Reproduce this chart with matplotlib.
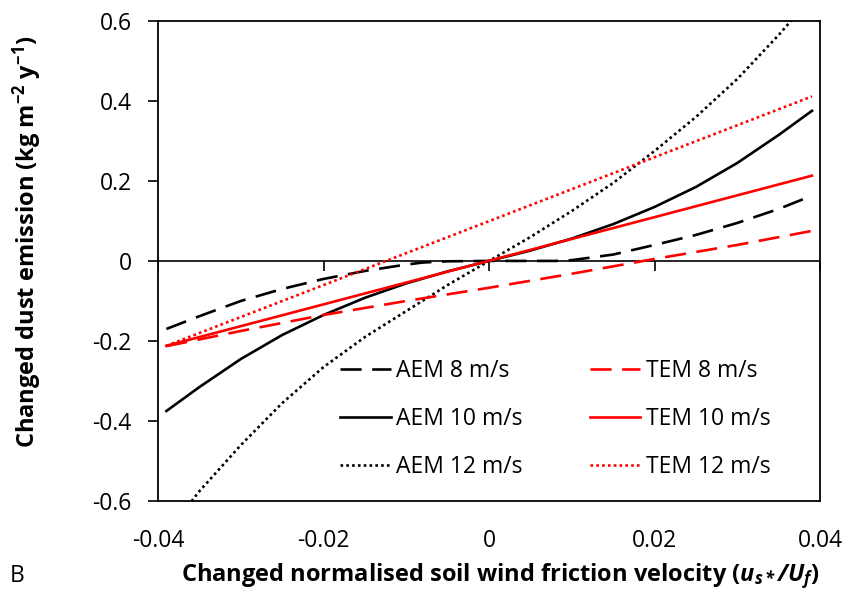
import matplotlib
matplotlib.use("Agg")
import matplotlib.pyplot as plt

plt.rcParams['font.family'] = ['Open Sans', 'DejaVu Sans']
plt.rcParams['axes.unicode_minus'] = False
plt.rcParams['mathtext.fontset'] = 'custom'
plt.rcParams['mathtext.rm'] = 'Open Sans'
plt.rcParams['mathtext.it'] = 'Open Sans:italic'
plt.rcParams['mathtext.bf'] = 'Open Sans:bold'
plt.rcParams['mathtext.bfit'] = 'Open Sans:italic:bold'

# AEM curves (black)
aem8_x = [-0.039, -0.035, -0.03, -0.025, -0.02, -0.015, -0.01, -0.008, -0.005, 0, 0.005, 0.008, 0.01,
          0.015, 0.02, 0.025, 0.03, 0.035, 0.039]
aem8_y = [-0.17, -0.138, -0.10, -0.07, -0.045, -0.025, -0.009, -0.004, -0.001, 0, 0, 0, 0.002,
          0.016, 0.04, 0.065, 0.095, 0.13, 0.163]

aem10_x = [-0.039, -0.035, -0.03, -0.025, -0.02, -0.015, -0.01, -0.005, 0, 0.005, 0.01, 0.015,
           0.02, 0.025, 0.03, 0.035, 0.039]
aem10_y = [-0.375, -0.315, -0.245, -0.185, -0.135, -0.092, -0.056, -0.026, 0, 0.026, 0.056, 0.092,
           0.135, 0.185, 0.245, 0.315, 0.375]

aem12_x = [-0.039, -0.035, -0.03, -0.025, -0.02, -0.015, -0.01, -0.005, 0, 0.005, 0.01, 0.015,
           0.02, 0.025, 0.03, 0.035, 0.039]
aem12_y = [-0.68, -0.575, -0.46, -0.355, -0.265, -0.19, -0.125, -0.06, 0, 0.06, 0.125, 0.195,
           0.275, 0.36, 0.455, 0.565, 0.66]

# TEM curves (red)
tem8_x = [-0.039, -0.03, -0.02, -0.01, 0, 0.01, 0.02, 0.03, 0.039]
tem8_y = [-0.213, -0.175, -0.135, -0.1, -0.067, -0.032, 0.005, 0.04, 0.075]

tem10_x = [-0.039, 0.039]
tem10_y = [-0.212, 0.213]

tem12_x = [-0.039, 0.039]
tem12_y = [-0.212, 0.411]

xticks = [-0.04, -0.02, 0, 0.02, 0.04]
xlabels = ['-0.04', '-0.02', '0', '0.02', '0.04']
yticks = [-0.6, -0.4, -0.2, 0, 0.2, 0.4, 0.6]
ylabels = ['-0.6', '-0.4', '-0.2', '0', '0.2', '0.4', '0.6']

fig = plt.figure(figsize=(8.5, 5.93), dpi=100)
ax = fig.add_axes([0.186, 0.155, 0.779, 0.81])

lw = 1.9
ax.axhline(0, color='black', lw=1.2, zorder=1)
ax.plot(xticks, [0] * len(xticks), ls='none', marker=3, ms=7, mew=1.2, color='black', zorder=1)

ax.plot(aem8_x, aem8_y, color='black', lw=lw, dashes=(8, 4), label='AEM 8 m/s')
ax.plot(aem10_x, aem10_y, color='black', lw=lw, label='AEM 10 m/s')
ax.plot(aem12_x, aem12_y, color='black', lw=lw, dashes=(1, 1.2), label='AEM 12 m/s')
ax.plot(tem8_x, tem8_y, color='#ff0000', lw=lw, dashes=(8, 4), label='TEM 8 m/s')
ax.plot(tem10_x, tem10_y, color='#ff0000', lw=lw, label='TEM 10 m/s')
ax.plot(tem12_x, tem12_y, color='#ff0000', lw=lw, dashes=(1, 1.2), label='TEM 12 m/s')

ax.set_xlim(-0.04, 0.04)
ax.set_ylim(-0.6, 0.6)
ax.set_xticks(xticks)
ax.set_xticklabels(xlabels)
ax.set_yticks(yticks)
ax.set_yticklabels(ylabels)
ax.tick_params(axis='x', length=0, pad=20, labelsize=16.5)
ax.tick_params(axis='y', length=7, width=1.2, direction='out', pad=12, labelsize=16.5)
for s in ax.spines.values():
    s.set_linewidth(1.3)

ax.set_ylabel(r'Changed dust emission (kg m$^{\mathbf{-2}}$ y$^{\mathbf{-1}}$)',
              fontsize=17, fontweight='bold')
ax.yaxis.set_label_coords(-0.172, 0.54)
ax.set_xlabel(r'Changed normalised soil wind friction velocity ($\mathbfit{u_{s*}/U_f}$)',
              fontsize=17, fontweight='bold')
ax.xaxis.set_label_coords(0.517, -0.126)
fig.text(0.012, 0.018, 'B', fontsize=16.5)

ax.legend(ncol=2, loc='upper left', bbox_to_anchor=(0.275, 0.296), frameon=False, fontsize=16.5,
          handlelength=2.2, handletextpad=0.25, columnspacing=2.92, labelspacing=1.05,
          borderpad=0, borderaxespad=0)

fig.savefig('out.png', dpi=100)
